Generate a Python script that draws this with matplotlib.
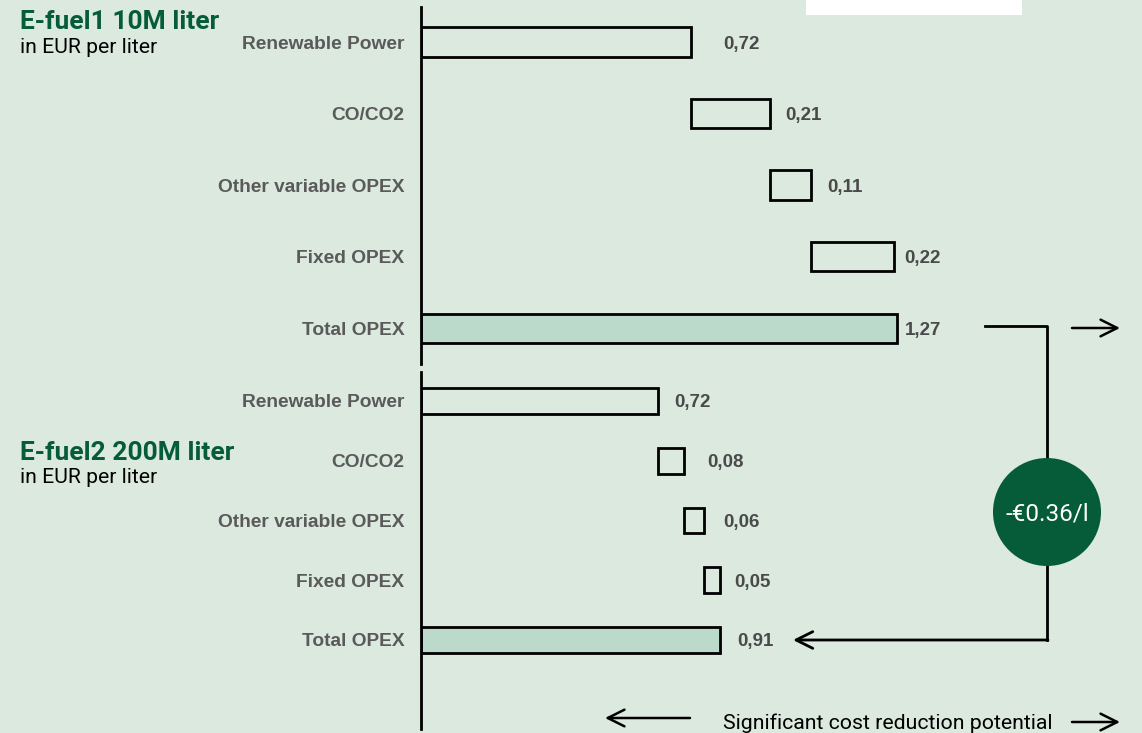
import numpy as np
import matplotlib
matplotlib.use("Agg")
import matplotlib.pyplot as plt
from matplotlib.patches import Circle, Rectangle

# data
categories = ["Renewable Power", "CO/CO2", "Other variable OPEX", "Fixed OPEX", "Total OPEX"]
efuel1_costs = [0.72, 0.21, 0.11, 0.22]
efuel1_total = 1.27
efuel2_costs = [0.72, 0.08, 0.06, 0.05]
efuel2_total = 0.91

title1 = "E-fuel1 10M liter"
title2 = "E-fuel2 200M liter"
subtitle = "in EUR per liter"
footer = "Significant cost reduction potential"

# styling
W, H = 1142, 733
BG = "#dbe9df"
TOTAL_FILL = "#bcdacb"
GREEN = "#065c39"
LABEL_GREY = "#5a5a5a"
VALUE_GREY = "#4a4a4a"
BAR_LW = 2.0

fig = plt.figure(figsize=(W / 100, H / 100), dpi=100, facecolor=BG)


def px_axes(left, top, right, bottom, **kw):
    return fig.add_axes([left / W, 1 - bottom / H, (right - left) / W, (bottom - top) / H], **kw)


def fmt(v):
    return f"{v:.2f}".replace(".", ",")


def draw_waterfall(ax, costs, total, xmax, ylim, height, offsets):
    ax.set_facecolor("none")
    n = len(costs)
    ys = np.arange(n + 1)
    starts = np.concatenate([[0], np.cumsum(costs)[:-1]])
    ax.barh(ys[:n], costs, left=starts, height=height, facecolor="none",
            edgecolor="black", linewidth=BAR_LW)
    ax.barh(ys[n], total, left=0, height=height, facecolor=TOTAL_FILL,
            edgecolor="black", linewidth=BAR_LW)
    ends = list(np.array(starts) + np.array(costs)) + [total]
    vals = list(costs) + [total]
    for y, e, v, off in zip(ys, ends, vals, offsets):
        ax.annotate(fmt(v), xy=(e, y), xytext=(off, 0), textcoords="offset pixels",
                    va="center_baseline", ha="left", fontsize=13.5, fontweight="bold",
                    color=VALUE_GREY, family="Liberation Sans")
    ax.set_xlim(0, xmax)
    ax.set_ylim(*ylim)
    ax.set_yticks(ys)
    ax.set_yticklabels(categories, fontsize=13.8, fontweight="bold", color=LABEL_GREY,
                       family="Liberation Sans")
    ax.tick_params(axis="y", length=0, pad=12)
    ax.set_xticks([])
    for s in ["top", "right", "bottom"]:
        ax.spines[s].set_visible(False)
    ax.spines["left"].set_linewidth(2.0)
    ax.spines["left"].set_color("black")


ax1 = px_axes(421, 7, 1141, 364)
draw_waterfall(ax1, efuel1_costs, efuel1_total, 720 / 375, (4.5, -0.49), 0.41,
               [32, 15, 16, 11, 8])

ax2 = px_axes(421, 372, 1141, 729)
draw_waterfall(ax2, efuel2_costs, efuel2_total, 720 / 329, (5.49, -0.485), 0.43,
               [16, 23, 19, 14, 17])

# overlay in pixel coordinates for titles and annotations
ov = fig.add_axes([0, 0, 1, 1], facecolor="none")
ov.set_xlim(0, W)
ov.set_ylim(H, 0)
ov.axis("off")

ov.add_patch(Rectangle((806, 0), 216, 15, facecolor="white", edgecolor="none"))

ov.text(20, 29, title1, fontsize=19, fontweight="bold", color=GREEN, family="Roboto")
ov.text(20, 53, subtitle, fontsize=15.2, color="black", family="Roboto")
ov.text(20, 460, title2, fontsize=19, fontweight="bold", color=GREEN, family="Roboto")
ov.text(20, 483, subtitle, fontsize=15.2, color="black", family="Roboto")

# connector between totals
ov.plot([985, 1047, 1047], [326, 326, 640], color="black", lw=2)
ov.annotate("", xy=(793, 640), xytext=(1048, 640),
            arrowprops=dict(arrowstyle="->", lw=2, color="black", mutation_scale=30,
                            shrinkA=0, shrinkB=0))
ov.add_patch(Circle((1047, 512), 54, facecolor=GREEN, edgecolor="none", zorder=3))
diff = efuel2_total - efuel1_total
ov.text(1047, 514, f"-€{abs(diff):.2f}/l", ha="center", va="center", fontsize=17.5,
        color="white", family="Roboto", zorder=4)

arrow = dict(arrowstyle="->", lw=1.8, color="black", mutation_scale=30, shrinkA=0, shrinkB=0)
ov.annotate("", xy=(1120, 328), xytext=(1072, 328), arrowprops=arrow)
ov.annotate("", xy=(605, 718), xytext=(690, 718), arrowprops=arrow)
ov.annotate("", xy=(1120, 722), xytext=(1072, 722), arrowprops=arrow)
ov.text(723, 729, footer, fontsize=15.3, color="black", family="Roboto")

fig.savefig("out.png", dpi=100, facecolor=BG)
